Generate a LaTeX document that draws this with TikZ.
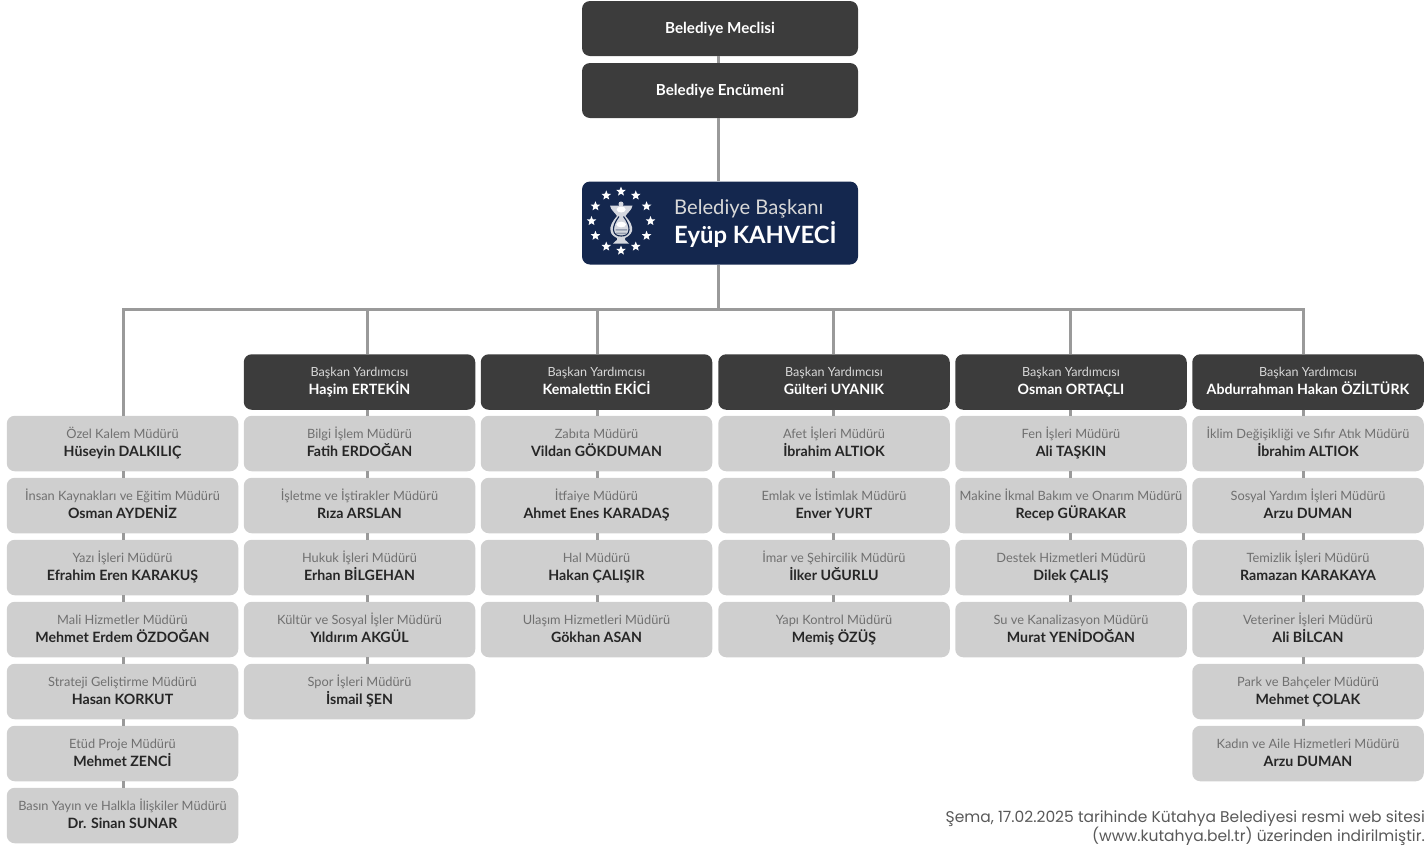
\documentclass[tikz,border=0pt]{standalone}
\usepackage{fontspec}
\setmainfont{Lato}
\newfontfamily\footfont{Poppins}
\usetikzlibrary{shapes.geometric}
\definecolor{darkbox}{HTML}{3C3C3C}
\definecolor{lightbox}{HTML}{CFCFCF}
\definecolor{navybox}{HTML}{14274E}
\definecolor{linegray}{HTML}{9A9A9A}
\definecolor{titlegray}{HTML}{707070}
\definecolor{namedark}{HTML}{262626}
\definecolor{headlight}{HTML}{D8D8D8}
\newcommand{\titlefnt}{\fontsize{12.8}{16.5}\selectfont}
\newcommand{\namefnt}{\fontsize{14.2}{16.5}\selectfont\bfseries}
\tikzset{
  x=1pt,y=-1pt,
  boxbase/.style={rounded corners=8pt,minimum height=55.5pt,inner sep=0pt,align=center},
  lightnode/.style={boxbase,fill=lightbox,minimum width=231.5pt,text=namedark},
  headnode/.style={boxbase,fill=darkbox,minimum width=231.5pt,text=white},
  topnode/.style={boxbase,fill=darkbox,minimum width=276pt,text=white,font=\fontsize{15.2}{18}\selectfont\bfseries},
  conn/.style={draw=linegray,line width=3pt},
  starlet/.style={star,star points=5,star point ratio=2.3,fill=white,inner sep=0pt,minimum size=10pt},
}
\newcommand{\lightlab}[2]{{\titlefnt\color{titlegray}\rule[-4pt]{0pt}{17pt}\smash{#1}}\\{\namefnt\color{namedark}\rule[-5pt]{0pt}{17.5pt}\smash{#2}}}
\newcommand{\headlab}[2]{{\fontsize{12.6}{17.6}\selectfont\color{headlight}\rule[-4pt]{0pt}{16pt}\smash{#1}}\\{\fontsize{14.2}{17.6}\selectfont\bfseries\color{white}\rule[-5pt]{0pt}{18.5pt}\smash{#2}}}
\newcommand{\toplab}[1]{\rule{0pt}{10pt}\smash{#1}}
\newcommand{\lbox}[5]{\node[lightnode] (#1) at (#2,{443.5+62*(#3)}) {\lightlab{#4}{#5}};}
\newcommand{\hdbox}[4]{\node[headnode] (#1) at (#2,382) {\headlab{#3}{#4}};}
\begin{document}
\begin{tikzpicture}
\useasboundingbox (0,0) rectangle (1426,847);
% top
\node[topnode,minimum height=55pt] (meclis) at (720,28.5) {\toplab{Belediye Meclisi}};
\node[topnode,minimum height=55pt] (encumen) at (720,90.5) {\toplab{Belediye Encümeni}};
\node[boxbase,fill=navybox,minimum width=276pt,minimum height=83pt] (baskan) at (720,223) {};
\coordinate (tm) at (718,309);
\coordinate (b0) at (123,309);
\coordinate (b1) at (367,309);
\coordinate (b2) at (597,309);
\coordinate (b3) at (833,309);
\coordinate (b4) at (1070,309);
\coordinate (b5) at (1303,309);
\draw[conn] (meclis.south -| tm) -- (encumen.north -| tm);
\draw[conn] (encumen.south -| tm) -- (baskan.north -| tm);
\draw[conn] (baskan.south -| tm) -- (tm);
% logo
\node[text=headlight,font=\fontsize{20.2}{22}\selectfont,anchor=west,inner sep=0pt] (bl1) at (674,208.5) {Belediye Başkanı};
\node[text=white,font=\fontsize{23.8}{26}\selectfont\bfseries,anchor=west,inner sep=0pt] (bl2) at (674,235) {Eyüp KAHVECİ};
\foreach \a in {0,30,...,330}{\node[starlet] (st\a) at ({621+29.5*cos(\a)},{221+29.5*sin(\a)}) {};}
% tulip glass
\path[fill=white!82!navybox] (610,205.5) -- (632.5,205.5) .. controls (632,210) and (627,213) .. (625.5,216) .. controls (630,221) and (633,226) .. (632,231) .. controls (631,235) and (627,237) .. (625,238) -- (625,240) .. controls (626,241) and (628,242) .. (629,243.5) -- (613,243.5) .. controls (614,242) and (616,241) .. (617,240) -- (617,238) .. controls (615,237) and (611,235) .. (610.5,231) .. controls (609.5,226) and (612.5,221) .. (617,216) .. controls (615.5,213) and (610.5,210) .. (610,205.5) -- cycle;
\path[fill=white!82!navybox] (621,204) circle[radius=2.5];
\path[fill=white] (621.2,209.5) ellipse[x radius=4.5,y radius=3];
\draw[navybox,line width=1.1pt] (619,216.5) .. controls (615.5,221) and (613.2,226) .. (613.5,230) .. controls (614,234.5) and (617,236) .. (621.2,236) .. controls (625.5,236) and (628.5,234.5) .. (629,230) .. controls (629.3,226) and (627,221) .. (623.5,216.5);
\path[fill=white] (621.2,224.5) ellipse[x radius=4.8,y radius=2.8];
\path[fill=navybox!45!white] (615.5,229) -- (627,229) -- (627,230.5) -- (615.5,230.5) -- cycle (616,232.5) -- (626.5,232.5) -- (626.5,234) -- (616,234) -- cycle;
% headers
\hdbox{h1}{359.5}{Başkan Yardımcısı}{Haşim ERTEKİN}
\hdbox{h2}{596.5}{Başkan Yardımcısı}{Kemalettin EKİCİ}
\hdbox{h3}{834}{Başkan Yardımcısı}{Gülteri UYANIK}
\hdbox{h4}{1071}{Başkan Yardımcısı}{Osman ORTAÇLI}
\hdbox{h5}{1308}{Başkan Yardımcısı}{Abdurrahman Hakan ÖZİLTÜRK}
% column 0
\lbox{a0}{122.5}{0}{Özel Kalem Müdürü}{Hüseyin DALKILIÇ}
\lbox{a1}{122.5}{1}{İnsan Kaynakları ve Eğitim Müdürü}{Osman AYDENİZ}
\lbox{a2}{122.5}{2}{Yazı İşleri Müdürü}{Efrahim Eren KARAKUŞ}
\lbox{a3}{122.5}{3}{Mali Hizmetler Müdürü}{Mehmet Erdem ÖZDOĞAN}
\lbox{a4}{122.5}{4}{Strateji Geliştirme Müdürü}{Hasan KORKUT}
\lbox{a5}{122.5}{5}{Etüd Proje Müdürü}{Mehmet ZENCİ}
\lbox{a6}{122.5}{6}{Basın Yayın ve Halkla İlişkiler Müdürü}{Dr. Sinan SUNAR}
% column 1
\lbox{c0}{359.5}{0}{Bilgi İşlem Müdürü}{Fatih ERDOĞAN}
\lbox{c1}{359.5}{1}{İşletme ve İştirakler Müdürü}{Rıza ARSLAN}
\lbox{c2}{359.5}{2}{Hukuk İşleri Müdürü}{Erhan BİLGEHAN}
\lbox{c3}{359.5}{3}{Kültür ve Sosyal İşler Müdürü}{Yıldırım AKGÜL}
\lbox{c4}{359.5}{4}{Spor İşleri Müdürü}{İsmail ŞEN}
% column 2
\lbox{d0}{596.5}{0}{Zabıta Müdürü}{Vildan GÖKDUMAN}
\lbox{d1}{596.5}{1}{İtfaiye Müdürü}{Ahmet Enes KARADAŞ}
\lbox{d2}{596.5}{2}{Hal Müdürü}{Hakan ÇALIŞIR}
\lbox{d3}{596.5}{3}{Ulaşım Hizmetleri Müdürü}{Gökhan ASAN}
% column 3
\lbox{e0}{834}{0}{Afet İşleri Müdürü}{İbrahim ALTIOK}
\lbox{e1}{834}{1}{Emlak ve İstimlak Müdürü}{Enver YURT}
\lbox{e2}{834}{2}{İmar ve Şehircilik Müdürü}{İlker UĞURLU}
\lbox{e3}{834}{3}{Yapı Kontrol Müdürü}{Memiş ÖZÜŞ}
% column 4
\lbox{f0}{1071}{0}{Fen İşleri Müdürü}{Ali TAŞKIN}
\lbox{f1}{1071}{1}{Makine İkmal Bakım ve Onarım Müdürü}{Recep GÜRAKAR}
\lbox{f2}{1071}{2}{Destek Hizmetleri Müdürü}{Dilek ÇALIŞ}
\lbox{f3}{1071}{3}{Su ve Kanalizasyon Müdürü}{Murat YENİDOĞAN}
% column 5
\lbox{g0}{1308}{0}{İklim Değişikliği ve Sıfır Atık Müdürü}{İbrahim ALTIOK}
\lbox{g1}{1308}{1}{Sosyal Yardım İşleri Müdürü}{Arzu DUMAN}
\lbox{g2}{1308}{2}{Temizlik İşleri Müdürü}{Ramazan KARAKAYA}
\lbox{g3}{1308}{3}{Veteriner İşleri Müdürü}{Ali BİLCAN}
\lbox{g4}{1308}{4}{Park ve Bahçeler Müdürü}{Mehmet ÇOLAK}
\lbox{g5}{1308}{5}{Kadın ve Aile Hizmetleri Müdürü}{Arzu DUMAN}
% bus
\draw[conn,line cap=rect] (b0) -- (b5);
\draw[conn] (b0) -- (b0 |- a0.north);
\draw[conn] (b1) -- (b1 |- h1.north);
\draw[conn] (b2) -- (b2 |- h2.north);
\draw[conn] (b3) -- (b3 |- h3.north);
\draw[conn] (b4) -- (b4 |- h4.north);
\draw[conn] (b5) -- (b5 |- h5.north);
% vertical links
\foreach \p/\q in {a0/a1,a1/a2,a2/a3,a3/a4,a4/a5,a5/a6}{\draw[conn] (\p.south -| b0) -- (\q.north -| b0);}
\foreach \p/\q in {h1/c0,c0/c1,c1/c2,c2/c3,c3/c4}{\draw[conn] (\p.south -| b1) -- (\q.north -| b1);}
\foreach \p/\q in {h2/d0,d0/d1,d1/d2,d2/d3}{\draw[conn] (\p.south -| b2) -- (\q.north -| b2);}
\foreach \p/\q in {h3/e0,e0/e1,e1/e2,e2/e3}{\draw[conn] (\p.south -| b3) -- (\q.north -| b3);}
\foreach \p/\q in {h4/f0,f0/f1,f1/f2,f2/f3}{\draw[conn] (\p.south -| b4) -- (\q.north -| b4);}
\foreach \p/\q in {h5/g0,g0/g1,g1/g2,g2/g3,g3/g4,g4/g5}{\draw[conn] (\p.south -| b5) -- (\q.north -| b5);}
% footer
\node[anchor=north east,align=right,inner sep=0pt,text=black!65,font=\footfont\fontsize{15.5}{18.5}\selectfont] (foot) at (1425,810) {Şema, 17.02.2025 tarihinde Kütahya Belediyesi resmi web sitesi\\(www.kutahya.bel.tr) üzerinden indirilmiştir.};
\end{tikzpicture}
\end{document}
